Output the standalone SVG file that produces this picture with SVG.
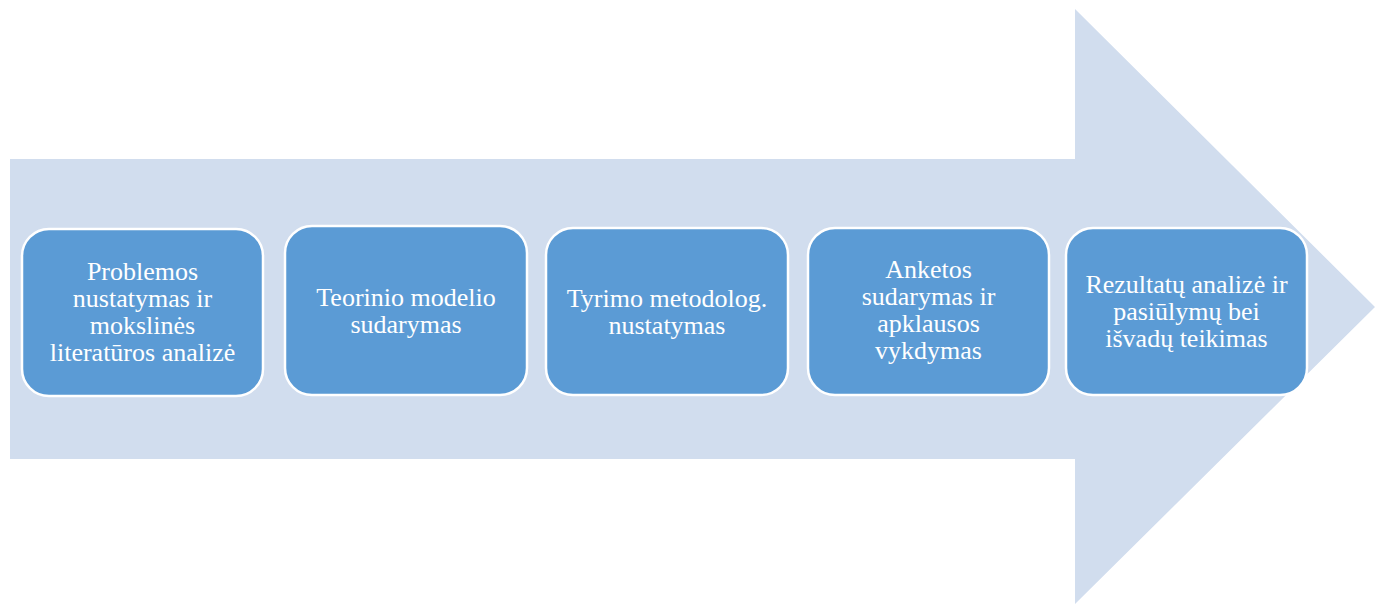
<svg xmlns="http://www.w3.org/2000/svg" width="1382" height="605" viewBox="0 0 1382 605">
<style>
.box{fill:#5B9BD5;stroke:#FFFFFF;stroke-width:2.5}
.t{font-family:"Liberation Serif","Times New Roman",serif;font-size:26px;fill:#FFFFFF;text-anchor:middle}
</style>
<rect width="1382" height="605" fill="#FFFFFF"/>
<g id="arrow">
<polygon points="10,159 1075,159 1075,9 1375,307 1075,604 1075,459 10,459" fill="#D1DDEE"/>
</g>
<g id="connectors"></g>
<g id="n1">
<rect class="box" x="22" y="229" width="241" height="167" rx="27"/>
<text class="t" x="142.5"><tspan x="142.5" y="280">Problemos</tspan><tspan x="142.5" y="307">nustatymas ir</tspan><tspan x="142.5" y="334">mokslinės</tspan><tspan x="142.5" y="361">literatūros analizė</tspan></text>
</g>
<g id="n2">
<rect class="box" x="285" y="226" width="242" height="169" rx="27"/>
<text class="t" x="406"><tspan x="406" y="306">Teorinio modelio</tspan><tspan x="406" y="333">sudarymas</tspan></text>
</g>
<g id="n3">
<rect class="box" x="546" y="228" width="242" height="167" rx="27"/>
<text class="t" x="667"><tspan x="667" y="307">Tyrimo metodolog.</tspan><tspan x="667" y="334">nustatymas</tspan></text>
</g>
<g id="n4">
<rect class="box" x="808" y="228" width="241" height="167" rx="27"/>
<text class="t" x="928.5"><tspan x="928.5" y="278">Anketos</tspan><tspan x="928.5" y="305">sudarymas ir</tspan><tspan x="928.5" y="332">apklausos</tspan><tspan x="928.5" y="359">vykdymas</tspan></text>
</g>
<g id="n5">
<rect class="box" x="1066" y="228" width="241" height="167" rx="27"/>
<text class="t" x="1186.5"><tspan x="1186.5" y="293">Rezultatų analizė ir</tspan><tspan x="1186.5" y="320">pasiūlymų bei</tspan><tspan x="1186.5" y="347">išvadų teikimas</tspan></text>
</g>
</svg>
